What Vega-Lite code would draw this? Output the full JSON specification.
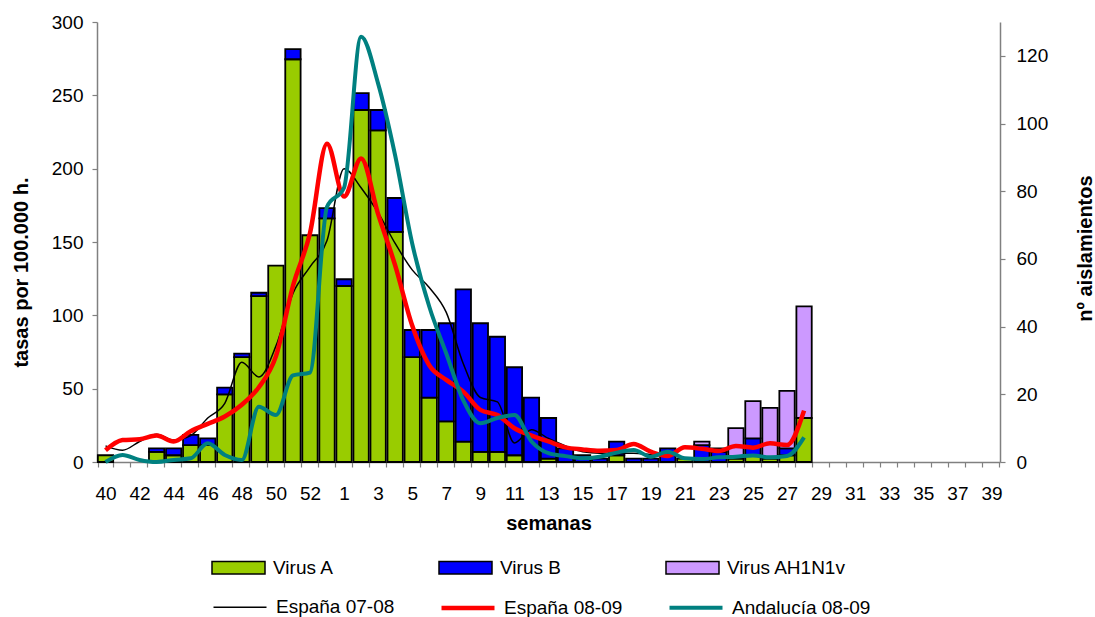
{
  "$schema": "https://vega.github.io/schema/vega-lite/v6.json",
  "width": 903,
  "height": 440,
  "autosize": {"type": "none"},
  "padding": {"left": 97, "top": 22, "right": 95, "bottom": 155},
  "background": "white",
  "config": {
    "view": {"stroke": null},
    "font": "Liberation Sans",
    "axis": {
      "labelFont": "Liberation Sans", "titleFont": "Liberation Sans",
      "labelColor": "black", "titleColor": "black",
      "domainColor": "#808080", "domainWidth": 1.5,
      "tickColor": "#808080", "tickWidth": 1.2, "tickSize": 5,
      "grid": false, "labelFontSize": 19, "titleFontSize": 20, "titleFontWeight": "bold"
    },
    "legend": {"labelFont": "Liberation Sans", "labelFontSize": 19, "labelColor": "black"}
  },
  "datasets": {
    "barras": [
      {"semana":"40","tipo":"Virus A","n":2,"ord":1},
      {"semana":"43","tipo":"Virus A","n":3,"ord":1},{"semana":"43","tipo":"Virus B","n":1,"ord":2},
      {"semana":"44","tipo":"Virus A","n":2,"ord":1},{"semana":"44","tipo":"Virus B","n":2,"ord":2},
      {"semana":"45","tipo":"Virus A","n":5,"ord":1},{"semana":"45","tipo":"Virus B","n":3,"ord":2},
      {"semana":"46","tipo":"Virus A","n":5,"ord":1},{"semana":"46","tipo":"Virus B","n":2,"ord":2},
      {"semana":"47","tipo":"Virus A","n":20,"ord":1},{"semana":"47","tipo":"Virus B","n":2,"ord":2},
      {"semana":"48","tipo":"Virus A","n":31,"ord":1},{"semana":"48","tipo":"Virus B","n":1,"ord":2},
      {"semana":"49","tipo":"Virus A","n":49,"ord":1},{"semana":"49","tipo":"Virus B","n":1,"ord":2},
      {"semana":"50","tipo":"Virus A","n":58,"ord":1},
      {"semana":"51","tipo":"Virus A","n":119,"ord":1},{"semana":"51","tipo":"Virus B","n":3,"ord":2},
      {"semana":"52","tipo":"Virus A","n":67,"ord":1},
      {"semana":"53","tipo":"Virus A","n":72,"ord":1},{"semana":"53","tipo":"Virus B","n":3,"ord":2},
      {"semana":"1","tipo":"Virus A","n":52,"ord":1},{"semana":"1","tipo":"Virus B","n":2,"ord":2},
      {"semana":"2","tipo":"Virus A","n":104,"ord":1},{"semana":"2","tipo":"Virus B","n":5,"ord":2},
      {"semana":"3","tipo":"Virus A","n":98,"ord":1},{"semana":"3","tipo":"Virus B","n":6,"ord":2},
      {"semana":"4","tipo":"Virus A","n":68,"ord":1},{"semana":"4","tipo":"Virus B","n":10,"ord":2},
      {"semana":"5","tipo":"Virus A","n":31,"ord":1},{"semana":"5","tipo":"Virus B","n":8,"ord":2},
      {"semana":"6","tipo":"Virus A","n":19,"ord":1},{"semana":"6","tipo":"Virus B","n":20,"ord":2},
      {"semana":"7","tipo":"Virus A","n":12,"ord":1},{"semana":"7","tipo":"Virus B","n":29,"ord":2},
      {"semana":"8","tipo":"Virus A","n":6,"ord":1},{"semana":"8","tipo":"Virus B","n":45,"ord":2},
      {"semana":"9","tipo":"Virus A","n":3,"ord":1},{"semana":"9","tipo":"Virus B","n":38,"ord":2},
      {"semana":"10","tipo":"Virus A","n":3,"ord":1},{"semana":"10","tipo":"Virus B","n":34,"ord":2},
      {"semana":"11","tipo":"Virus A","n":2,"ord":1},{"semana":"11","tipo":"Virus B","n":26,"ord":2},
      {"semana":"12","tipo":"Virus B","n":19,"ord":2},
      {"semana":"13","tipo":"Virus A","n":1,"ord":1},{"semana":"13","tipo":"Virus B","n":12,"ord":2},
      {"semana":"14","tipo":"Virus B","n":4,"ord":2},
      {"semana":"15","tipo":"Virus B","n":2,"ord":2},
      {"semana":"16","tipo":"Virus B","n":1,"ord":2},
      {"semana":"17","tipo":"Virus A","n":2,"ord":1},{"semana":"17","tipo":"Virus B","n":4,"ord":2},
      {"semana":"18","tipo":"Virus B","n":1,"ord":2},
      {"semana":"19","tipo":"Virus B","n":1,"ord":2},
      {"semana":"20","tipo":"Virus B","n":4,"ord":2},
      {"semana":"21","tipo":"Virus A","n":1,"ord":1},
      {"semana":"22","tipo":"Virus B","n":5,"ord":2},{"semana":"22","tipo":"Virus AH1N1v","n":1,"ord":3},
      {"semana":"23","tipo":"Virus B","n":3,"ord":2},{"semana":"23","tipo":"Virus AH1N1v","n":1,"ord":3},
      {"semana":"24","tipo":"Virus A","n":1,"ord":1},{"semana":"24","tipo":"Virus AH1N1v","n":9,"ord":3},
      {"semana":"25","tipo":"Virus A","n":2,"ord":1},{"semana":"25","tipo":"Virus B","n":5,"ord":2},{"semana":"25","tipo":"Virus AH1N1v","n":11,"ord":3},
      {"semana":"26","tipo":"Virus A","n":1,"ord":1},{"semana":"26","tipo":"Virus AH1N1v","n":15,"ord":3},
      {"semana":"27","tipo":"Virus A","n":2,"ord":1},{"semana":"27","tipo":"Virus B","n":2,"ord":2},{"semana":"27","tipo":"Virus AH1N1v","n":17,"ord":3},
      {"semana":"28","tipo":"Virus A","n":13,"ord":1},{"semana":"28","tipo":"Virus AH1N1v","n":33,"ord":3}
    ],
    "lineas": [
      {"semana":"40","serie":"España 07-08","tasa":11},{"semana":"41","serie":"España 07-08","tasa":8},{"semana":"42","serie":"España 07-08","tasa":14},{"semana":"43","serie":"España 07-08","tasa":19},{"semana":"44","serie":"España 07-08","tasa":15},{"semana":"45","serie":"España 07-08","tasa":18},{"semana":"46","serie":"España 07-08","tasa":30},{"semana":"47","serie":"España 07-08","tasa":40},{"semana":"48","serie":"España 07-08","tasa":68},{"semana":"49","serie":"España 07-08","tasa":58},{"semana":"50","serie":"España 07-08","tasa":79},{"semana":"51","serie":"España 07-08","tasa":115},{"semana":"52","serie":"España 07-08","tasa":133},{"semana":"53","serie":"España 07-08","tasa":151},{"semana":"1","serie":"España 07-08","tasa":200},{"semana":"2","serie":"España 07-08","tasa":187},{"semana":"3","serie":"España 07-08","tasa":170},{"semana":"4","serie":"España 07-08","tasa":149},{"semana":"5","serie":"España 07-08","tasa":131},{"semana":"6","serie":"España 07-08","tasa":119},{"semana":"7","serie":"España 07-08","tasa":102},{"semana":"8","serie":"España 07-08","tasa":67},{"semana":"9","serie":"España 07-08","tasa":44},{"semana":"10","serie":"España 07-08","tasa":41},{"semana":"11","serie":"España 07-08","tasa":13},{"semana":"12","serie":"España 07-08","tasa":22},{"semana":"13","serie":"España 07-08","tasa":16},{"semana":"14","serie":"España 07-08","tasa":11},{"semana":"15","serie":"España 07-08","tasa":7},{"semana":"16","serie":"España 07-08","tasa":6},{"semana":"17","serie":"España 07-08","tasa":6},{"semana":"18","serie":"España 07-08","tasa":6},{"semana":"19","serie":"España 07-08","tasa":5},{"semana":"20","serie":"España 07-08","tasa":4},
      {"semana":"40","serie":"España 08-09","tasa":8},{"semana":"41","serie":"España 08-09","tasa":15},{"semana":"42","serie":"España 08-09","tasa":15.5},{"semana":"43","serie":"España 08-09","tasa":18},{"semana":"44","serie":"España 08-09","tasa":14},{"semana":"45","serie":"España 08-09","tasa":21},{"semana":"46","serie":"España 08-09","tasa":26},{"semana":"47","serie":"España 08-09","tasa":31},{"semana":"48","serie":"España 08-09","tasa":39},{"semana":"49","serie":"España 08-09","tasa":51},{"semana":"50","serie":"España 08-09","tasa":72},{"semana":"51","serie":"España 08-09","tasa":120},{"semana":"52","serie":"España 08-09","tasa":156},{"semana":"53","serie":"España 08-09","tasa":217},{"semana":"1","serie":"España 08-09","tasa":181},{"semana":"2","serie":"España 08-09","tasa":207},{"semana":"3","serie":"España 08-09","tasa":169},{"semana":"4","serie":"España 08-09","tasa":134},{"semana":"5","serie":"España 08-09","tasa":93},{"semana":"6","serie":"España 08-09","tasa":66},{"semana":"7","serie":"España 08-09","tasa":56},{"semana":"8","serie":"España 08-09","tasa":48},{"semana":"9","serie":"España 08-09","tasa":35.5},{"semana":"10","serie":"España 08-09","tasa":32},{"semana":"11","serie":"España 08-09","tasa":23},{"semana":"12","serie":"España 08-09","tasa":18},{"semana":"13","serie":"España 08-09","tasa":14},{"semana":"14","serie":"España 08-09","tasa":10},{"semana":"15","serie":"España 08-09","tasa":8.6},{"semana":"16","serie":"España 08-09","tasa":7.7},{"semana":"17","serie":"España 08-09","tasa":8.2},{"semana":"18","serie":"España 08-09","tasa":12.3},{"semana":"19","serie":"España 08-09","tasa":7},{"semana":"20","serie":"España 08-09","tasa":4.1},{"semana":"21","serie":"España 08-09","tasa":10},{"semana":"22","serie":"España 08-09","tasa":9},{"semana":"23","serie":"España 08-09","tasa":7.5},{"semana":"24","serie":"España 08-09","tasa":10.9},{"semana":"25","serie":"España 08-09","tasa":9.8},{"semana":"26","serie":"España 08-09","tasa":12.7},{"semana":"27","serie":"España 08-09","tasa":11.6},{"semana":"28","serie":"España 08-09","tasa":35},
      {"semana":"40","serie":"Andalucía 08-09","tasa":0},{"semana":"41","serie":"Andalucía 08-09","tasa":4.8},{"semana":"42","serie":"Andalucía 08-09","tasa":1.4},{"semana":"43","serie":"Andalucía 08-09","tasa":0},{"semana":"44","serie":"Andalucía 08-09","tasa":1.4},{"semana":"45","serie":"Andalucía 08-09","tasa":2.5},{"semana":"46","serie":"Andalucía 08-09","tasa":12.7},{"semana":"47","serie":"Andalucía 08-09","tasa":4.8},{"semana":"48","serie":"Andalucía 08-09","tasa":1.4},{"semana":"49","serie":"Andalucía 08-09","tasa":37.7},{"semana":"50","serie":"Andalucía 08-09","tasa":32},{"semana":"51","serie":"Andalucía 08-09","tasa":59},{"semana":"52","serie":"Andalucía 08-09","tasa":61},{"semana":"53","serie":"Andalucía 08-09","tasa":174},{"semana":"1","serie":"Andalucía 08-09","tasa":187},{"semana":"2","serie":"Andalucía 08-09","tasa":290},{"semana":"3","serie":"Andalucía 08-09","tasa":258},{"semana":"4","serie":"Andalucía 08-09","tasa":209},{"semana":"5","serie":"Andalucía 08-09","tasa":149},{"semana":"6","serie":"Andalucía 08-09","tasa":106},{"semana":"7","serie":"Andalucía 08-09","tasa":74},{"semana":"8","serie":"Andalucía 08-09","tasa":42},{"semana":"9","serie":"Andalucía 08-09","tasa":26.4},{"semana":"10","serie":"Andalucía 08-09","tasa":30},{"semana":"11","serie":"Andalucía 08-09","tasa":32},{"semana":"12","serie":"Andalucía 08-09","tasa":14},{"semana":"13","serie":"Andalucía 08-09","tasa":6},{"semana":"14","serie":"Andalucía 08-09","tasa":4},{"semana":"15","serie":"Andalucía 08-09","tasa":2.5},{"semana":"16","serie":"Andalucía 08-09","tasa":3.6},{"semana":"17","serie":"Andalucía 08-09","tasa":6.4},{"semana":"18","serie":"Andalucía 08-09","tasa":8.2},{"semana":"19","serie":"Andalucía 08-09","tasa":3.6},{"semana":"20","serie":"Andalucía 08-09","tasa":7},{"semana":"21","serie":"Andalucía 08-09","tasa":2.5},{"semana":"22","serie":"Andalucía 08-09","tasa":2},{"semana":"23","serie":"Andalucía 08-09","tasa":3.2},{"semana":"24","serie":"Andalucía 08-09","tasa":3.6},{"semana":"25","serie":"Andalucía 08-09","tasa":4.5},{"semana":"26","serie":"Andalucía 08-09","tasa":3.2},{"semana":"27","serie":"Andalucía 08-09","tasa":4.1},{"semana":"28","serie":"Andalucía 08-09","tasa":16.8}
    ]
  },
  "layer": [
    {
      "data": {"name": "barras"},
      "mark": {"type": "bar", "stroke": "black", "strokeWidth": 1.8},
      "encoding": {
        "x": {
          "field": "semana", "type": "ordinal",
          "scale": {"domain": ["40","41","42","43","44","45","46","47","48","49","50","51","52","53","1","2","3","4","5","6","7","8","9","10","11","12","13","14","15","16","17","18","19","20","21","22","23","24","25","26","27","28","29","30","31","32","33","34","35","36","37","38","39"], "paddingInner": 0.1, "paddingOuter": 0.05},
          "axis": {
            "title": "semanas", "titleFontSize": 20, "titleY": 51, "titleBaseline": "top",
            "labelAngle": 0, "labelOverlap": false, "labelPadding": 17, "tickBand": "extent",
            "labelExpr": "indexof(['40','42','44','46','48','50','52','1','3','5','7','9','11','13','15','17','19','21','23','25','27','29','31','33','35','37','39'], datum.value) >= 0 ? datum.value : ''"
          }
        },
        "y": {
          "field": "n", "type": "quantitative", "stack": "zero",
          "scale": {"domain": [0, 130], "nice": false},
          "axis": {"orient": "right", "title": "nº aislamientos", "values": [0,20,40,60,80,100,120], "labelPadding": 11, "titleAngle": -90, "titleBaseline": "alphabetic", "titleX": 91, "titleY": 226}
        },
        "fill": {
          "field": "tipo", "type": "nominal",
          "scale": {"domain": ["Virus A","Virus B","Virus AH1N1v"], "range": ["#99CC00","#0000FF","#CC99FF"]},
          "legend": {"title": null, "orient": "none", "legendX": 114, "legendY": 518, "direction": "horizontal", "columns": 3, "gridAlign": "all", "columnPadding": 44, "padding": 0, "symbolType": "M-1,-0.232H1V0.232H-1Z", "symbolSize": 2809, "symbolStrokeColor": "black", "symbolStrokeWidth": 1.5, "symbolOpacity": 1, "labelOffset": 7}
        },
        "order": {"field": "ord", "type": "quantitative"}
      }
    },
    {
      "data": {"name": "lineas"},
      "mark": {"type": "line", "interpolate": "monotone"},
      "encoding": {
        "x": {"field": "semana", "type": "ordinal", "bandPosition": 0.5},
        "y": {
          "field": "tasa", "type": "quantitative",
          "scale": {"domain": [0, 300], "nice": false},
          "axis": {"orient": "left", "title": "tasas por 100.000 h.", "values": [0,50,100,150,200,250,300], "labelPadding": 9, "titleAngle": -90, "titleBaseline": "alphabetic", "titleX": -70, "titleY": 250}
        },
        "stroke": {
          "field": "serie", "type": "nominal",
          "scale": {"domain": ["España 07-08","España 08-09","Andalucía 08-09"], "range": ["#000000","#FF0000","#008080"]},
          "legend": {"title": null, "orient": "none", "legendX": 114, "legendY": 557, "direction": "horizontal", "columns": 3, "gridAlign": "all", "columnPadding": 17, "padding": 0, "symbolType": "stroke", "symbolSize": 2809, "labelOffset": 7}
        },
        "strokeWidth": {
          "field": "serie", "type": "nominal",
          "scale": {"type": "ordinal", "domain": ["España 07-08","España 08-09","Andalucía 08-09"], "range": [1.5, 4.5, 4]},
          "legend": {"title": null, "orient": "none", "legendX": 114, "legendY": 557, "direction": "horizontal", "columns": 3, "gridAlign": "all", "columnPadding": 17, "padding": 0, "symbolType": "stroke", "symbolSize": 2809, "labelOffset": 7}
        }
      }
    }
  ],
  "resolve": {"scale": {"y": "independent"}}
}
